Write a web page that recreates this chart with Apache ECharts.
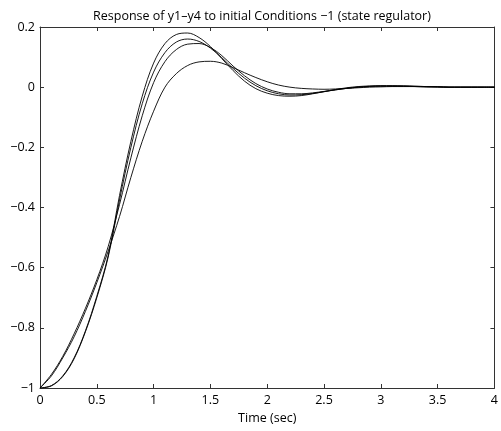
<!DOCTYPE html>
<html>
<head>
<meta charset="utf-8">
<script src="https://cdn.jsdelivr.net/npm/echarts@6/dist/echarts.min.js"></script>
<style>
  html, body { margin: 0; padding: 0; background: #fff; }
  #chart { width: 501px; height: 431px; }
</style>
</head>
<body>
<div id="chart"></div>
<script>
// time samples (sec)
const times = [0, 0.1, 0.2, 0.3, 0.4, 0.5, 0.6, 0.7, 0.8, 0.9, 1.0,
  1.1, 1.2, 1.3, 1.4, 1.5, 1.6, 1.7, 1.8, 1.9, 2.0,
  2.1, 2.2, 2.3, 2.4, 2.5, 2.6, 2.7, 2.8, 2.9, 3.0,
  3.1, 3.2, 3.3, 3.4, 3.5, 3.6, 3.7, 3.8, 3.9, 4.0]

// responses
const y1 = [-1, -0.992, -0.96, -0.9, -0.81, -0.695, -0.56, -0.36, -0.18, -0.03, 0.08,
  0.145, 0.175, 0.18, 0.165, 0.135, 0.095, 0.055, 0.02, -0.005, -0.02,
  -0.028, -0.03, -0.028, -0.022, -0.015, -0.008, -0.002, 0.002, 0.004, 0.005,
  0.005, 0.004, 0.003, 0.002, 0.001, 0, 0, 0, 0, 0]
const y2 = [-1, -0.993, -0.962, -0.903, -0.813, -0.7, -0.565, -0.375, -0.2, -0.055, 0.05,
  0.115, 0.15, 0.16, 0.152, 0.13, 0.098, 0.062, 0.03, 0.005, -0.012,
  -0.022, -0.026, -0.025, -0.021, -0.015, -0.009, -0.004, 0, 0.003, 0.004,
  0.004, 0.004, 0.003, 0.002, 0.001, 0, 0, 0, 0, 0]
const y3 = [-1, -0.955, -0.895, -0.82, -0.735, -0.64, -0.53, -0.39, -0.235, -0.095, 0.015,
  0.085, 0.125, 0.143, 0.145, 0.132, 0.105, 0.07, 0.038, 0.012, -0.006,
  -0.017, -0.022, -0.022, -0.019, -0.014, -0.009, -0.004, 0, 0.002, 0.003,
  0.003, 0.003, 0.002, 0.001, 0.001, 0, 0, 0, 0, 0]
const y4 = [-1, -0.96, -0.9, -0.83, -0.745, -0.65, -0.545, -0.43, -0.3, -0.18, -0.08,
  0, 0.045, 0.072, 0.084, 0.086, 0.08, 0.065, 0.048, 0.032, 0.018,
  0.007, 0, -0.004, -0.006, -0.007, -0.006, -0.004, -0.002, 0, 0.001,
  0.002, 0.002, 0.002, 0.001, 0.001, 0, 0, 0, 0, 0]

const xTicks = [0, 0.5, 1, 1.5, 2, 2.5, 3, 3.5, 4]

const pairs = (ys) => times.map((t, i) => [t, ys[i]])

const fmt = (v) => {
    const r = Math.round(v * 10) / 10
    if (r === 0) return '0'
    return (r < 0 ? '\u2212' : '') + Math.abs(r)
}

const font = '"Open Sans", "DejaVu Sans", sans-serif'
const frame = '#333'

const line = (name, ys) => ({
    name: name,
    type: 'line',
    smooth: 0.35,
    symbol: 'none',
    xAxisIndex: 0,
    yAxisIndex: 0,
    lineStyle: { color: '#000', width: 0.9 },
    data: pairs(ys),
})

const chart = echarts.init(document.getElementById('chart'))
chart.setOption({
    animation: false,
    backgroundColor: '#fff',
    title: {
        text: 'Response of y1\u2013y4 to initial Conditions \u22121 (state regulator)',
        left: 257,
        top: 5,
        textAlign: 'center',
        textStyle: { fontFamily: font, fontSize: 12.5, fontWeight: 'normal', color: '#000' },
    },
    grid: { left: 40, right: 6, top: 27, bottom: 43, show: false },
    xAxis: [
        {
            type: 'value', min: 0, max: 4, interval: 0.5,
            name: 'Time (sec)', nameLocation: 'middle', nameGap: 22,
            nameTextStyle: { fontFamily: font, fontSize: 12.5, color: '#000' },
            axisLine: { show: true, onZero: false, lineStyle: { color: frame, width: 1 } },
            axisTick: { show: true, inside: true, length: 4, lineStyle: { color: frame } },
            axisLabel: {
                fontFamily: font, fontSize: 12.5, color: '#000', margin: 6,
                formatter: (v) => xTicks.includes(v) ? String(v) : '',
            },
            splitLine: { show: false },
        },
        {
            type: 'value', min: 0, max: 4, interval: 0.5, position: 'top',
            axisLine: { show: true, onZero: false, lineStyle: { color: frame, width: 1 } },
            axisTick: { show: true, inside: true, length: 4, lineStyle: { color: frame } },
            axisLabel: { show: false },
            splitLine: { show: false },
        },
    ],
    yAxis: [
        {
            type: 'value', min: -1, max: 0.2, interval: 0.2,
            axisLine: { show: true, onZero: false, lineStyle: { color: frame, width: 1 } },
            axisTick: { show: true, inside: true, length: 4, lineStyle: { color: frame } },
            axisLabel: { fontFamily: font, fontSize: 12.5, color: '#000', margin: 5, formatter: fmt },
            splitLine: { show: false },
        },
        {
            type: 'value', min: -1, max: 0.2, interval: 0.2, position: 'right',
            axisLine: { show: true, onZero: false, lineStyle: { color: frame, width: 1 } },
            axisTick: { show: true, inside: true, length: 4, lineStyle: { color: frame } },
            axisLabel: { show: false },
            splitLine: { show: false },
        },
    ],
    series: [
        line('y1', y1),
        line('y2', y2),
        line('y3', y3),
        line('y4', y4),
    ],
})
</script>
</body>
</html>
